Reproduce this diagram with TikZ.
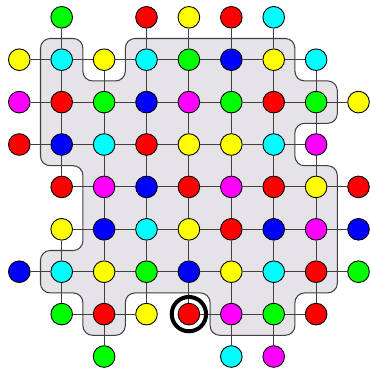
\documentclass[tikz,border=0pt]{standalone}
\usetikzlibrary{positioning}
\definecolor{regionfill}{RGB}{229,227,232}
\definecolor{vred}{RGB}{255,0,0}
\definecolor{vgreen}{RGB}{0,255,0}
\definecolor{vblue}{RGB}{0,0,255}
\definecolor{vcyan}{RGB}{0,255,255}
\definecolor{vmagenta}{RGB}{255,0,255}
\definecolor{vyellow}{RGB}{255,255,0}

\begin{document}
\begin{tikzpicture}[
    vtx/.style={circle,draw=black,line width=0.6pt,minimum size=0.51cm,inner sep=0pt},
    edge/.style={black!75,line width=0.75pt},
  ]
  \useasboundingbox (-0.455,0.408) rectangle (8.271,-8.295);
  % shaded region
  \draw[fill=regionfill,draw=black!75,line width=0.7pt,rounded corners=6.5pt]
    (1,-0.5) -- (1.5,-0.5) -- (1.5,-1.5) -- (2.5,-1.5) -- (2.5,-0.5) -- (6.5,-0.5)
    -- (6.5,-1.5) -- (7.5,-1.5) -- (7.5,-2.5) -- (6.5,-2.5) -- (6.5,-3.5) -- (7.5,-3.5)
    -- (7.5,-6.5) -- (6.5,-6.5) -- (6.5,-7.5) -- (4.5,-7.5) -- (4.5,-6.5) -- (2.5,-6.5)
    -- (2.5,-7.5) -- (1.5,-7.5) -- (1.5,-6.5) -- (0.5,-6.5) -- (0.5,-5.5) -- (1.5,-5.5)
    -- (1.5,-3.5) -- (0.5,-3.5) -- (0.5,-0.5) -- cycle;
  % vertices, row by row
  \foreach \r/\lst in {
      0/{1/vgreen,3/vred,4/vyellow,5/vred,6/vcyan},
      1/{0/vyellow,1/vcyan,2/vyellow,3/vcyan,4/vgreen,5/vblue,6/vyellow,7/vcyan},
      2/{0/vmagenta,1/vred,2/vgreen,3/vblue,4/vmagenta,5/vgreen,6/vred,7/vgreen,8/vyellow},
      3/{0/vred,1/vblue,2/vcyan,3/vred,4/vyellow,5/vyellow,6/vcyan,7/vmagenta},
      4/{1/vred,2/vmagenta,3/vblue,4/vred,5/vmagenta,6/vred,7/vyellow,8/vred},
      5/{1/vyellow,2/vblue,3/vcyan,4/vyellow,5/vred,6/vblue,7/vmagenta,8/vblue},
      6/{0/vblue,1/vcyan,2/vyellow,3/vgreen,4/vblue,5/vyellow,6/vcyan,7/vred,8/vgreen},
      7/{1/vgreen,2/vred,3/vyellow,4/vred,5/vmagenta,6/vgreen,7/vred},
      8/{2/vgreen,5/vcyan,6/vmagenta}}
    \foreach \c/\col in \lst
      \node[vtx,fill=\col] (n-\c-\r) at (\c,-\r) {};
  % every cell of the region is joined to its four neighbours
  \foreach \c/\r in {1/1,3/1,4/1,5/1,6/1,
      1/2,2/2,3/2,4/2,5/2,6/2,7/2,
      1/3,2/3,3/3,4/3,5/3,6/3,
      2/4,3/4,4/4,5/4,6/4,7/4,
      2/5,3/5,4/5,5/5,6/5,7/5,
      1/6,2/6,3/6,4/6,5/6,6/6,7/6,
      2/7,5/7,6/7} {
    \pgfmathtruncatemacro\cl{\c-1}
    \pgfmathtruncatemacro\cr{\c+1}
    \pgfmathtruncatemacro\ru{\r-1}
    \pgfmathtruncatemacro\rd{\r+1}
    \draw[edge] (n-\c-\r) -- (n-\cl-\r) (n-\c-\r) -- (n-\cr-\r)
      (n-\c-\r) -- (n-\c-\ru) (n-\c-\r) -- (n-\c-\rd);
  }
  \node[circle,draw=black,line width=2.7pt,minimum size=0.81cm] (ring) at (n-4-7) {};
\end{tikzpicture}
\end{document}
